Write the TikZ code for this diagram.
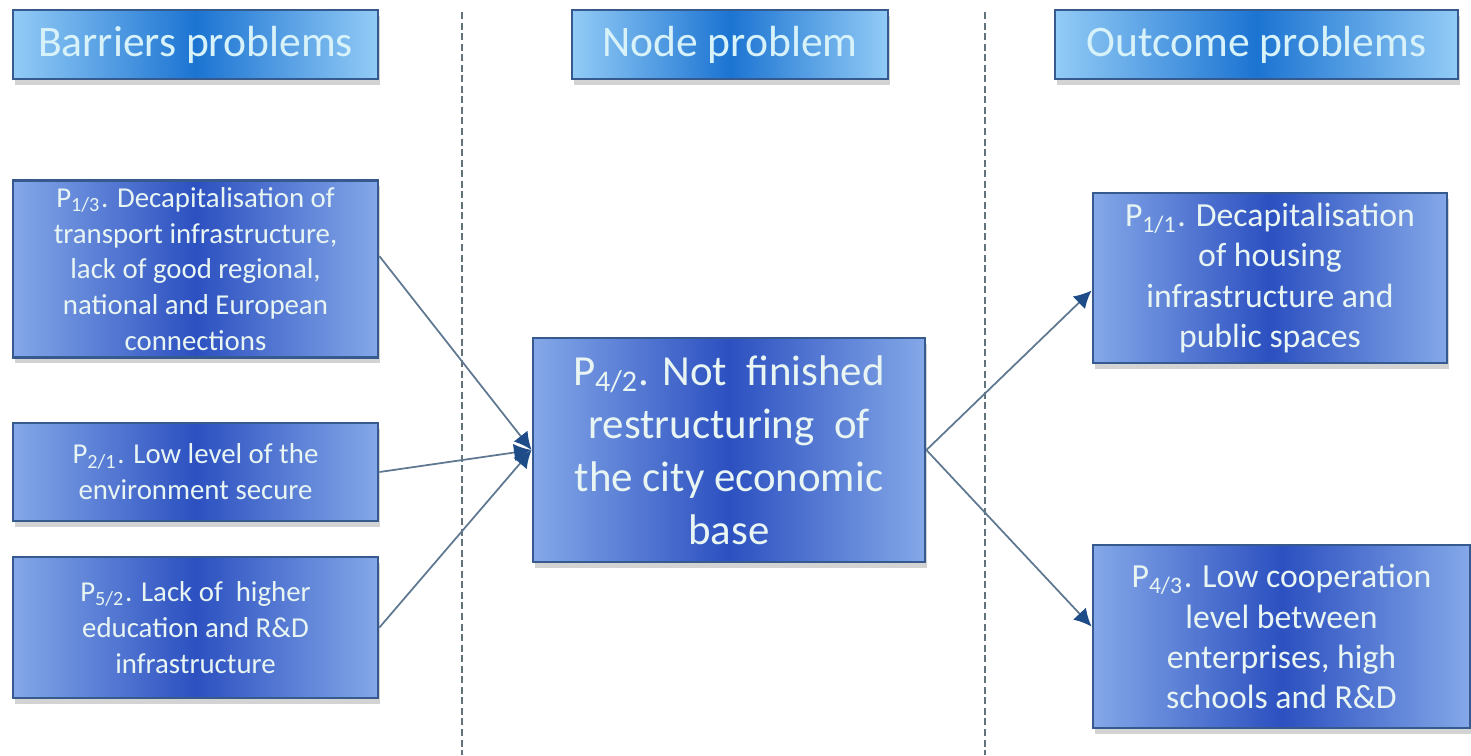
\documentclass[tikz,border=0pt]{standalone}
\usepackage{fontspec}
\setmainfont{Carlito}
\usetikzlibrary{arrows.meta,shadows,positioning}
\definecolor{boxlight}{HTML}{84A8E8}
\definecolor{boxdark}{HTML}{2C50C0}
\definecolor{headlight}{HTML}{92CBF6}
\definecolor{headdark}{HTML}{1C74D2}
\definecolor{boxline}{HTML}{36598E}
\definecolor{boxtext}{HTML}{E8F5F2}
\definecolor{headtext}{HTML}{D8F2FA}
\definecolor{arrowline}{HTML}{5F7891}
\definecolor{tipblue}{HTML}{1E4C88}
\definecolor{sepline}{HTML}{62737C}
\tikzset{
    -{Latex[length=5pt,width=5pt,color=tipblue]},
    line width=0.5pt,
    prob/.style = {rectangle, draw=boxline, line width=0.8pt, align=center,
        left color=boxlight, right color=boxlight, middle color=boxdark,
        text=boxtext, inner sep=2pt,
        drop shadow={opacity=0.35, shadow xshift=0.6pt, shadow yshift=-1.6pt}},
    head/.style = {prob, left color=headlight, right color=headlight,
        middle color=headdark, minimum height=0.69cm, text=headtext,
        font=\fontsize{12.4}{15}\selectfont},
    side/.style = {prob, font=\fontsize{8.2}{10.2}\selectfont},
    outc/.style = {prob, font=\fontsize{9.6}{11.4}\selectfont},
    core/.style = {prob, font=\fontsize{12.2}{15.1}\selectfont},
    cause/.style = {draw=arrowline, line width=0.5pt},
    sep/.style = {-, sepline, line width=0.45pt, dash pattern=on 2pt off 1pt}
}
\newcommand{\pn}[1]{P\textsubscript{#1}}

\begin{document}
\begin{tikzpicture}
  \useasboundingbox (0,0) rectangle (14.71,-7.55);

  \draw[sep] (4.62,-0.12) -- (4.62,-7.55);

  \draw[sep] (9.85,-0.12) -- (9.85,-7.55);

  \node[head, minimum width=3.65cm] (hb) at (1.955,-0.445) {Barriers problems};

  \node[head, minimum width=3.16cm] (hn) at (7.30,-0.445) {Node problem};

  \node[head, minimum width=4.03cm] (ho) at (12.565,-0.445) {Outcome problems};

  \node[side, minimum width=3.65cm, minimum height=1.72cm] (p13) at (1.955,-2.69)
    {\pn{1/3}. Decapitalisation of\\transport infrastructure,\\lack of good regional,\\national and European\\connections};

  \node[side, minimum width=3.65cm, minimum height=0.98cm] (p21) at (1.955,-4.72)
    {\pn{2/1}. Low level of the\\environment secure};

  \node[side, minimum width=3.65cm, minimum height=1.41cm] (p52) at (1.955,-6.275)
    {\pn{5/2}. Lack of\ \ higher\\education and R\&D\\infrastructure};

  \node[core, minimum width=3.92cm, minimum height=2.24cm] (p42) at (7.29,-4.50)
    {\pn{4/2}. Not\ \ finished\\restructuring\ \ of\\the city economic\\base};

  \node[outc, minimum width=3.54cm, minimum height=1.70cm] (p11) at (12.70,-2.78)
    {\pn{1/1}. Decapitalisation\\of housing\\infrastructure and\\public spaces};

  \node[outc, minimum width=3.77cm, minimum height=1.83cm] (p43) at (12.815,-6.365)
    {\pn{4/3}. Low cooperation\\level between\\enterprises, high\\schools and R\&D};

  \path (p13.4) edge[cause] (p42.west);

  \path (p21.east) edge[cause] (p42.west);

  \path (p52.east) edge[cause] (p42.west);

  \path (p42.east) edge[cause] (p11.184);

  \path (p42.east) edge[cause] (p43.177);
\end{tikzpicture}
\end{document}
